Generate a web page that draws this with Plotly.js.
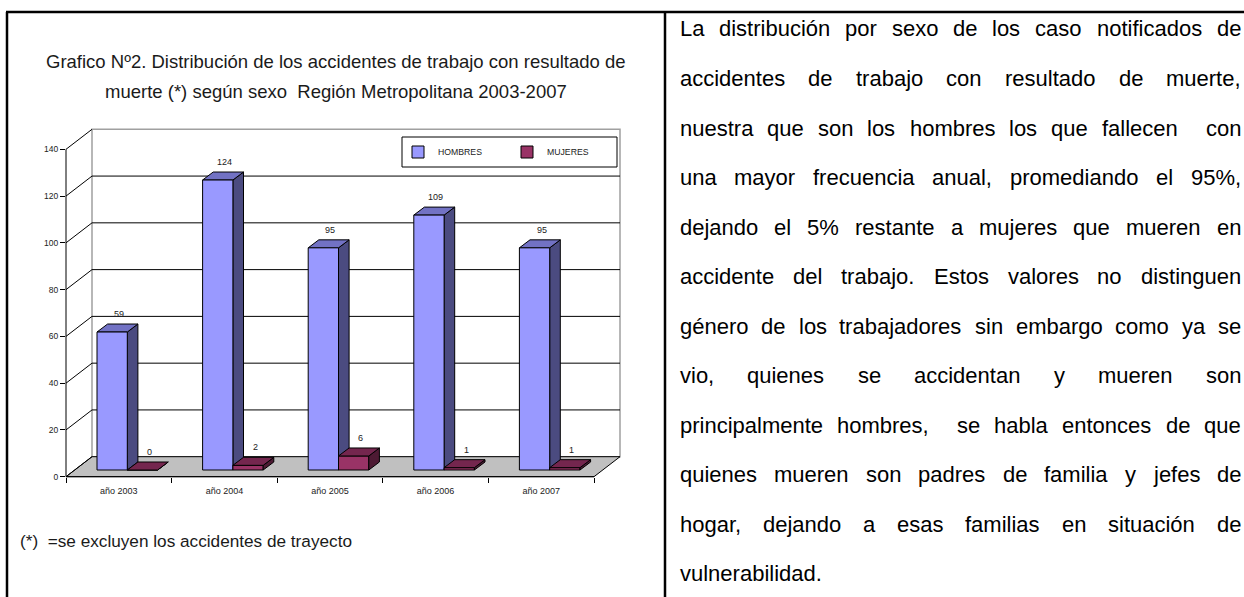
<!DOCTYPE html>
<html><head><meta charset="utf-8">
<script src="https://cdn.plot.ly/plotly-3.0.1.min.js"></script>
<style>html,body{margin:0;padding:0;background:#fff;}#chart{width:1244px;height:597px;}</style>
</head><body><div id="chart"></div>
<script>
// ---------- data ----------
const categories = ['año 2003', 'año 2004', 'año 2005', 'año 2006', 'año 2007'];
const hombres = [59, 124, 95, 109, 95];
const mujeres = [0, 2, 6, 1, 1];
const seriesNames = ['HOMBRES', 'MUJERES'];
const yTicks = [0, 20, 40, 60, 80, 100, 120, 140];
const titleLines = [
  'Grafico Nº2. Distribución de los accidentes de trabajo con resultado de',
  'muerte (*) según sexo  Región Metropolitana 2003-2007'
];
const footnote = '(*)  =se excluyen los accidentes de trayecto';
const bodyLines = [
  'La distribución por sexo de los caso notificados de',
  'accidentes de trabajo con resultado de muerte,',
  'nuestra que son los hombres los que fallecen  con',
  'una mayor frecuencia anual, promediando el 95%,',
  'dejando el 5% restante a mujeres que mueren en',
  'accidente del trabajo. Estos valores no distinguen',
  'género de los trabajadores sin embargo como ya se',
  'vio, quienes se accidentan y mueren son',
  'principalmente hombres,  se habla entonces de que',
  'quienes mueren son padres de familia y jefes de',
  'hogar, dejando a esas familias en situación de',
  'vulnerabilidad.'
];

// ---------- geometry / style ----------
const W = 1244, H = 597;
const FAM = '"Liberation Sans", Arial, sans-serif';
const L = 66, R = 620, T = 129.3, B = 476.7, DX = 26, DY = 20;
const NC = categories.length;
const CW = (R - DX - L) / NC;
const YMAX = yTicks[yTicks.length - 1];
const PY = (B - DY - T) / YMAX;
const BDX = 8.5, BDY = 6.7;     // bar plane offset from front plane
const FDX = 10.6, FDY = 8;      // bar depth
const BWPX = 30.3, BW = BWPX / CW;
const COL = {
  h: {front: '#9999FF', side: '#4B4B80', top: '#7272C4'},
  m: {front: '#993366', side: '#4D1A33', top: '#74264E'}
};
const fx = p => p / W, fy = p => 1 - p / H;
const frontY = v => B - v * PY;
const xr0 = -0.5, xr1 = -0.5 + (R - L) / CW;
const yr1 = (B - T) / PY;
const idx = categories.map((c, i) => i);

// ---------- traces ----------
const traces = [
  {type: 'scatter', x: [], y: [], xaxis: 'x', yaxis: 'y', showlegend: false, hoverinfo: 'skip'},
  {type: 'bar', name: seriesNames[0], x: idx, y: hombres, xaxis: 'x2', yaxis: 'y2',
   width: BW, offset: -BW, marker: {color: COL.h.front, line: {color: '#000', width: 1}}, hoverinfo: 'skip'},
  {type: 'bar', name: seriesNames[1], x: idx, y: mujeres, xaxis: 'x2', yaxis: 'y2',
   width: BW, offset: 0, marker: {color: COL.m.front, line: {color: '#000', width: 1}}, hoverinfo: 'skip'}
];

// ---------- shapes ----------
const shapes = [];
shapes.push({type: 'rect', xref: 'paper', yref: 'paper', x0: fx(L + DX), x1: fx(R), y0: fy(B - DY), y1: fy(T),
  fillcolor: '#fff', line: {color: '#a0a0a0', width: 1.5}, layer: 'below'});
shapes.push({type: 'path', xref: 'paper', yref: 'paper',
  path: `M${fx(L)},${fy(B)} L${fx(R - DX)},${fy(B)} L${fx(R)},${fy(B - DY)} L${fx(L + DX)},${fy(B - DY)} Z`,
  fillcolor: '#c0c0c0', line: {color: '#000', width: 1}, layer: 'below'});
yTicks.forEach(v => {
  const yf = frontY(v);
  if (v > 0 && v < YMAX) {
    shapes.push({type: 'line', xref: 'paper', yref: 'paper', x0: fx(L + DX), x1: fx(R), y0: fy(yf - DY), y1: fy(yf - DY),
      line: {color: '#000', width: 1}, layer: 'below'});
  }
  shapes.push({type: 'line', xref: 'paper', yref: 'paper', x0: fx(L), x1: fx(L + DX), y0: fy(yf), y1: fy(yf - DY),
    line: {color: '#000', width: 1}, layer: 'below'});
});
shapes.push({type: 'line', xref: 'paper', yref: 'paper', x0: fx(L), x1: fx(L), y0: fy(frontY(0)), y1: fy(frontY(YMAX)),
  line: {color: '#000', width: 1}, layer: 'below'});
shapes.push({type: 'line', xref: 'paper', yref: 'paper', x0: fx(L), x1: fx(R - DX), y0: fy(B), y1: fy(B),
  line: {color: '#000', width: 1}, layer: 'below'});
function faces(vals, offset, c, layer) {
  vals.forEach((v, i) => {
    const h = v * PY;
    shapes.push({type: 'path', xref: 'x2', yref: 'y2', xsizemode: 'pixel', ysizemode: 'pixel',
      xanchor: i + offset, yanchor: 0,
      path: `M${BWPX},0 L${BWPX + FDX},${FDY} L${BWPX + FDX},${FDY + h} L${BWPX},${h} Z`,
      fillcolor: c.side, line: {color: '#000', width: 1}, layer: layer});
    shapes.push({type: 'path', xref: 'x2', yref: 'y2', xsizemode: 'pixel', ysizemode: 'pixel',
      xanchor: i + offset, yanchor: v,
      path: `M0,0 L${BWPX},0 L${BWPX + FDX},${FDY} L${FDX},${FDY} Z`,
      fillcolor: c.top, line: {color: '#000', width: 1}, layer: layer});
  });
}
faces(hombres, -BW, COL.h, 'below');
faces(mujeres, 0, COL.m, 'above');
// legend frame
shapes.push({type: 'rect', xref: 'paper', yref: 'paper', x0: fx(402), x1: fx(617), y0: fy(167), y1: fy(137),
  fillcolor: 'rgba(0,0,0,0)', line: {color: '#000', width: 1}, layer: 'above'});
// table borders
const TB = {color: '#000', width: 2.5};
shapes.push({type: 'line', xref: 'paper', yref: 'paper', x0: fx(6), x1: 1, y0: fy(12), y1: fy(12), line: TB});
shapes.push({type: 'line', xref: 'paper', yref: 'paper', x0: fx(7), x1: fx(7), y0: fy(12), y1: 0, line: TB});
shapes.push({type: 'line', xref: 'paper', yref: 'paper', x0: fx(665), x1: fx(665), y0: fy(12), y1: 0, line: TB});

// ---------- annotations ----------
const ann = [];
const lblFont = {family: FAM, size: 9, color: '#222'};
[[hombres, -BW / 2], [mujeres, BW / 2]].forEach(([vals, off]) => {
  vals.forEach((v, i) => {
    ann.push({xref: 'x2', yref: 'y2', x: i + off, y: v, text: String(v), showarrow: false,
      xshift: 7, yshift: 18, font: lblFont, xanchor: 'center', yanchor: 'middle'});
  });
});
titleLines.forEach((t, k) => {
  ann.push({xref: 'paper', yref: 'paper', x: fx(336), y: fy(62 + k * 30), text: t, showarrow: false,
    xanchor: 'center', yanchor: 'middle', font: {family: FAM, size: 18.5, color: '#1a1a1a'}});
});
ann.push({xref: 'paper', yref: 'paper', x: fx(18), y: fy(541), text: footnote, showarrow: false,
  xanchor: 'left', yanchor: 'middle', font: {family: FAM, size: 17.2, color: '#1a1a1a'}});

// justified paragraph in the right-hand cell
const BODY = 22, BX0 = 679, BX1 = 1240, BY0 = 29, BLH = 49.5;
const ctx = document.createElement('canvas').getContext('2d');
ctx.font = `${BODY}px ${FAM}`;
bodyLines.forEach((line, k) => {
  const toks = line.split(' ');
  const ws = toks.map(t => ctx.measureText(t).width);
  const tot = ws.reduce((a, b) => a + b, 0);
  const last = k === bodyLines.length - 1;
  const gap = last ? ctx.measureText(' ').width : (BX1 - BX0 - tot) / (toks.length - 1);
  let x = BX0;
  toks.forEach((t, j) => {
    if (t) ann.push({xref: 'paper', yref: 'paper', x: fx(x - 1), y: fy(BY0 + k * BLH), text: t, showarrow: false,
      xanchor: 'left', yanchor: 'middle', font: {family: FAM, size: BODY, color: '#000'}});
    x += ws[j] + gap;
  });
});

// ---------- layout ----------
const layout = {
  width: W, height: H, margin: {l: 0, r: 0, t: 0, b: 0},
  paper_bgcolor: '#fff', plot_bgcolor: 'rgba(0,0,0,0)',
  showlegend: true, barmode: 'overlay',
  font: {family: FAM, size: 9, color: '#222'},
  xaxis: {domain: [fx(L), fx(R)], range: [xr0, xr1], tickmode: 'array', tickvals: idx, ticktext: categories,
    ticks: 'outside', ticklen: 5, tickcolor: 'rgba(0,0,0,0)', showgrid: false, zeroline: false, showline: false,
    minor: {tick0: -0.5, dtick: 1, ticks: 'outside', ticklen: 5, tickcolor: '#000', tickwidth: 1},
    tickfont: {family: FAM, size: 9, color: '#222'}, fixedrange: true},
  yaxis: {domain: [fy(B), fy(T)], range: [0, yr1], tickmode: 'array', tickvals: yTicks,
    ticks: 'outside', ticklen: 5, tickcolor: '#000', showgrid: false, zeroline: false, showline: false,
    tickfont: {family: FAM, size: 8.5, color: '#222'}, fixedrange: true},
  xaxis2: {domain: [fx(L), fx(R)], overlaying: 'x', anchor: 'y2', range: [xr0 - BDX / CW, xr1 - BDX / CW], visible: false, fixedrange: true},
  yaxis2: {domain: [fy(B), fy(T)], overlaying: 'y', anchor: 'x2', range: [-BDY / PY, yr1 - BDY / PY], visible: false, fixedrange: true},
  legend: {orientation: 'h', x: fx(398), y: fy(152), xanchor: 'left', yanchor: 'middle',
    bgcolor: 'rgba(0,0,0,0)', borderwidth: 0, font: {family: FAM, size: 8.7, color: '#222'},
    entrywidth: 64, entrywidthmode: 'pixels', traceorder: 'normal'},
  shapes: shapes, annotations: ann
};
Plotly.newPlot('chart', traces, layout, {displayModeBar: false, staticPlot: true});
</script></body></html>
